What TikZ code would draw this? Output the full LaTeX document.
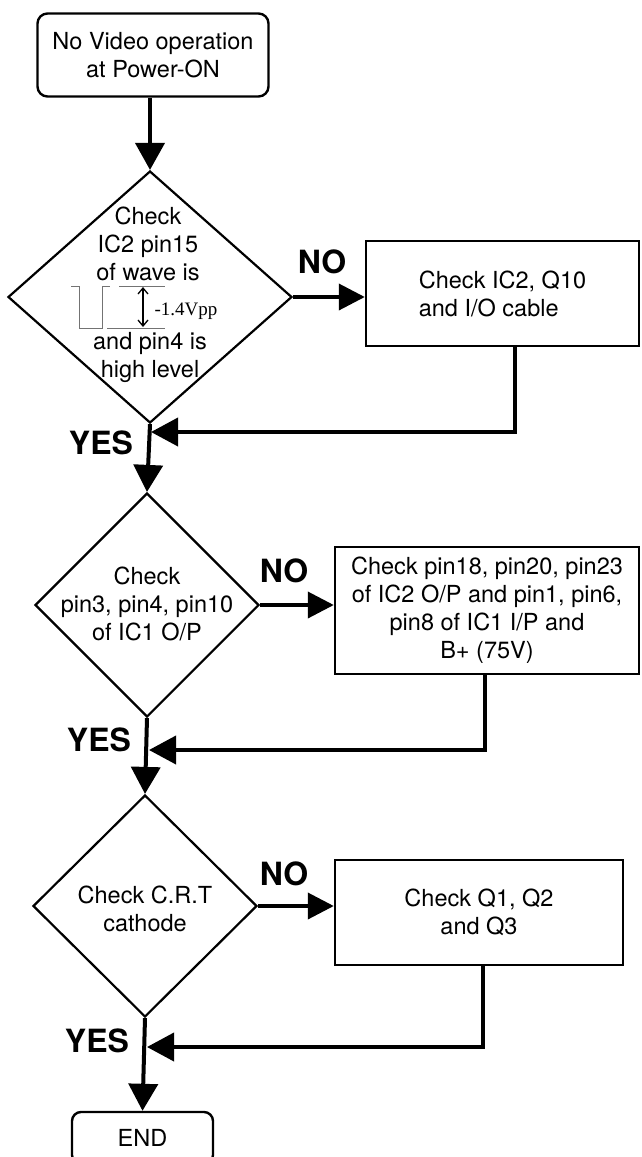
\documentclass[tikz,border=0pt]{standalone}
\usepackage{fontspec}
\setmainfont{TeX Gyre Heros}
\newfontfamily\myWaveFont{Liberation Serif}
\usetikzlibrary{shapes.geometric,arrows.meta}
\newcommand\myBody{\fontsize{23.5}{28}\selectfont}
\newcommand\myLbl{\fontsize{32}{34}\selectfont\bfseries}
\begin{document}
\begin{tikzpicture}[x=1pt,y=-1pt,
  boxst/.style={draw, line width=2.4pt, inner sep=0pt, align=center, font=\myBody},
  roundst/.style={boxst, rounded corners=10pt},
  diam/.style={draw, shape=diamond, line width=2.2pt, inner sep=0pt},
  txt/.style={inner sep=0pt, align=center, font=\myBody},
  lbl/.style={inner sep=0pt, font=\myLbl},
  flow/.style={line width=4pt, -{Triangle[length=27pt,width=29pt]}},
  flowh/.style={line width=3.8pt, -{Triangle[length=26pt,width=26pt]}},
  fb/.style={line width=3.8pt, -{Triangle[length=27pt,width=28pt]}},
  wave/.style={line width=0.9pt, black!55},
  dblarr/.style={line width=1.3pt, {Straight Barb[length=6pt,width=10pt]}-{Straight Barb[length=6pt,width=10pt]}}
]
\useasboundingbox (0,0) rectangle (641,1157);
\fill[white] (0,0) rectangle (641,1157);
\clip (0,0) rectangle (641,1157);

% start
\node[roundst, minimum width=231pt, minimum height=83pt] (start) at (153,55) {No Video operation\\at Power-ON};

% decision 1
\node[diam, minimum width=284pt, minimum height=252pt] (d1) at (150,297) {};
\draw[flow] (start.south -| d1.north) -- (d1.north);
\node[txt] (d1a) at (148,244) {Check\\IC2 pin15\\of wave is};
\node[txt] (d1b) at (150,357) {and pin4 is\\high level};
\draw[wave] (71,286) -- (79,286) -- (79,328) -- (102,328) -- (102,286) -- (110,286);
\draw[wave] (119,286) -- (165,286);
\draw[wave] (107,328) -- (165,328);
\coordinate (ampT) at (143,287);
\coordinate (ampB) at (143,327);
\draw[dblarr] (ampT) -- (ampB);
\node[inner sep=0pt, font=\myWaveFont\fontsize{19}{22}\selectfont] (amp) at (186,311) {-1.4Vpp};

% box 1
\node[boxst, align=left, minimum width=273pt, minimum height=105pt] (b1) at (502.5,293.5) {Check IC2, Q10\\and I/O cable};
\node[lbl] (no1) at (322,262) {NO};
\draw[flowh] (d1.east) -- (d1.east -| b1.west);
\coordinate (f1) at (515,432);
\coordinate (j1) at (151,432);
\draw[fb] (f1 |- b1.south) -- (f1) -- (j1);
\node[lbl] (yes1) at (101,443) {YES};

% decision 2
\node[diam, minimum width=224pt, minimum height=224pt] (d2) at (147,605) {};
\node[txt] (d2t) at (147,604) {Check\\pin3, pin4, pin10\\of IC1 O/P};
\draw[flow] (d1.south) -- (d2.north);

% box 2
\node[boxst, minimum width=304pt, minimum height=127pt] (b2) at (487,610.5) {Check pin18, pin20, pin23\\of IC2 O/P and pin1, pin6,\\pin8 of IC1 I/P and\\B+ (75V)};
\node[lbl] (no2) at (284,571) {NO};
\draw[flowh] (d2.east) -- (d2.east -| b2.west);
\coordinate (f2) at (485,750);
\coordinate (j2) at (149,750);
\draw[fb] (f2 |- b2.south) -- (f2) -- (j2);
\node[lbl] (yes2) at (99,740) {YES};

% decision 3
\node[diam, minimum width=224pt, minimum height=222pt] (d3) at (145,906) {};
\node[txt] (d3t) at (145,909) {Check C.R.T\\cathode};
\draw[flow] (d2.south) -- (d3.north);

% box 3
\node[boxst, minimum width=288pt, minimum height=105pt] (b3) at (479,912.5) {Check Q1, Q2\\and Q3};
\node[lbl] (no3) at (284,874) {NO};
\draw[flowh] (d3.east) -- (d3.east -| b3.west);
\coordinate (f3) at (483,1047);
\coordinate (j3) at (147,1047);
\draw[fb] (f3 |- b3.south) -- (f3) -- (j3);
\node[lbl] (yes3) at (97,1041) {YES};

% end
\node[roundst, rounded corners=9pt, minimum width=141pt, minimum height=52pt] (end) at (142.5,1138) {END};
\draw[flow] (d3.south) -- (end.north);
\end{tikzpicture}
\end{document}
